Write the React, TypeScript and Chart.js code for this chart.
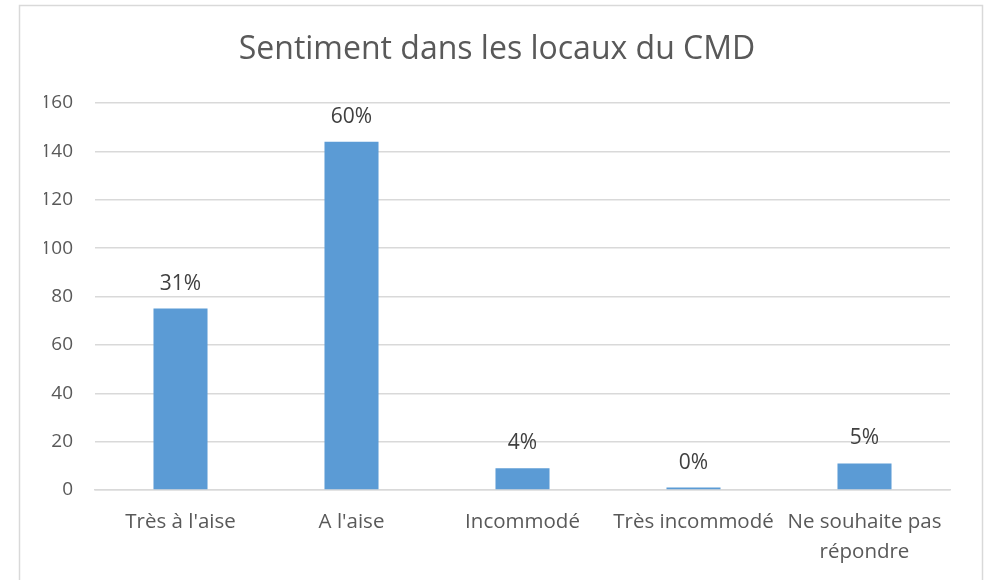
import React, { useEffect, useRef } from "react";
import { Chart, registerables } from "chart.js";

Chart.register(...registerables);

const categories: (string | string[])[] = [
  "Très à l'aise",
  "A l'aise",
  "Incommodé",
  "Très incommodé",
  ["Ne souhaite pas", "répondre"],
];
const counts: number[] = [75, 144, 9, 1, 11];
const yTicks = { min: 0, max: 160, step: 20 };
const titleText = "Sentiment dans les locaux du CMD";

const FONT = "'Open Sans', Lato, sans-serif";

export default function App() {
  const ref = useRef<HTMLCanvasElement>(null);
  useEffect(() => {
    if (!ref.current) return;
    const total = counts.reduce((a, b) => a + b, 0);
    const borderPlugin = {
      id: "frame",
      beforeDraw(chart: any) {
        const ctx = chart.ctx;
        ctx.save();
        ctx.fillStyle = "#ffffff";
        ctx.fillRect(0, 0, chart.width, chart.height);
        ctx.strokeStyle = "#d9d9d9";
        ctx.lineWidth = 1.5;
        ctx.strokeRect(19.5, 5.5, 963, 580);
        ctx.restore();
      },
    };
    const labelPlugin = {
      id: "pctLabels",
      afterDatasetsDraw(chart: any) {
        const ctx = chart.ctx;
        const meta = chart.getDatasetMeta(0);
        ctx.save();
        ctx.fillStyle = "#404040";
        ctx.font = `21px ${FONT}`;
        ctx.textAlign = "center";
        ctx.textBaseline = "middle";
        meta.data.forEach((bar: any, i: number) => {
          const pct = Math.round((counts[i] / total) * 100);
          ctx.fillText(pct + "%", bar.x, bar.y - 25);
        });
        ctx.restore();
      },
    };
    const chart = new Chart(ref.current, {
      type: "bar",
      data: {
        labels: categories,
        datasets: [
          {
            data: counts,
            backgroundColor: "#5B9BD5",
            barPercentage: 0.316,
            categoryPercentage: 1,
          },
        ],
      },
      options: {
        animation: false,
        responsive: false,
        layout: { padding: { left: 44, right: 39, top: 0, bottom: 0 } },
        plugins: {
          legend: { display: false },
          tooltip: { enabled: false },
          title: {
            display: true,
            text: titleText,
            color: "#595959",
            font: { family: FONT, size: 32, weight: "normal", lineHeight: 1.2 },
            padding: { top: 31, bottom: 33.6 },
          },
        },
        scales: {
          x: {
            grid: { display: false, drawTicks: false },
            border: { display: true, color: "#d9d9d9", width: 1.5 },
            ticks: {
              color: "#595959",
              font: { family: FONT, size: 20.5, lineHeight: 1.47 },
              padding: 17,
              maxRotation: 0,
              autoSkip: false,
            },
            afterFit(s: any) {
              s.height = 90;
            },
          },
          y: {
            min: yTicks.min,
            max: yTicks.max,
            grid: { color: "#d9d9d9", lineWidth: 1.5, drawTicks: false },
            border: { display: false },
            ticks: {
              stepSize: yTicks.step,
              color: "#595959",
              font: { family: FONT, size: 19 },
              padding: 22,
            },
            afterFit(s: any) {
              s.width = 51;
            },
          },
        },
      },
      plugins: [borderPlugin, labelPlugin],
    });
    return () => chart.destroy();
  }, []);
  return (
    <div style={{ position: "fixed", left: 0, top: 0, width: 989, height: 580, background: "#fff" }}>
      <canvas ref={ref} width={989} height={580} style={{ display: "block" }} />
    </div>
  );
}
